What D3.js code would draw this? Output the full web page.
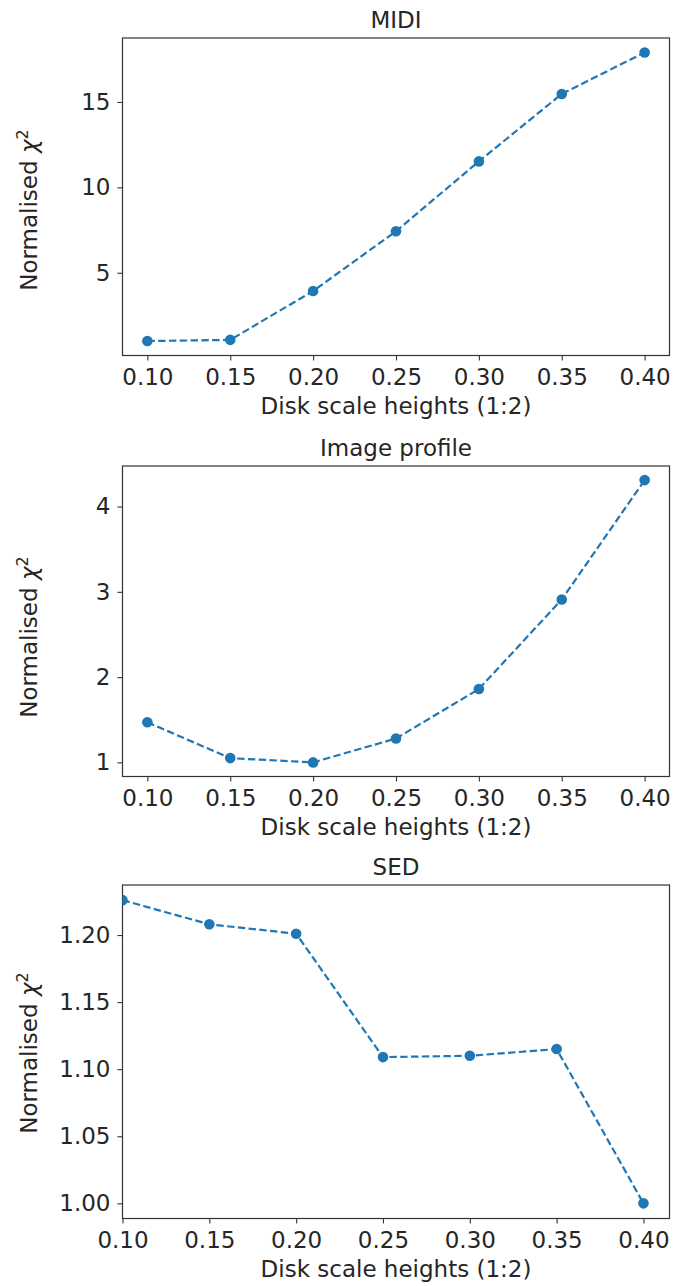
<!DOCTYPE html>
<html>
<head>
<meta charset="utf-8">
<script src="https://cdn.jsdelivr.net/npm/d3@7"></script>
<style>
  body { margin: 0; background: #fff; }
  text { font-family: "DejaVu Sans", sans-serif; fill: #262626; }
</style>
</head>
<body>
<div id="chart"></div>
<script>
// disk scale heights (x) shared by all three panels
const scaleHeights = [0.10, 0.15, 0.20, 0.25, 0.30, 0.35, 0.40]
const xTicks = [0.10, 0.15, 0.20, 0.25, 0.30, 0.35, 0.40]

const panelTitles = ["MIDI", "Image profile", "SED"]
const midiChi = [1.0, 1.07, 3.93, 7.43, 11.52, 15.47, 17.9]
const imageChi = [1.47, 1.05, 1.0, 1.28, 1.86, 2.91, 4.31]
const sedChi = [1.226, 1.208, 1.201, 1.109, 1.110, 1.115, 1.000]

const midiTicks = [5, 10, 15]
const imageTicks = [1, 2, 3, 4]
const sedTicks = [1.00, 1.05, 1.10, 1.15, 1.20]

const width = 673
const height = 1286
const blue = "#1f77b4"
const fontSize = 23

const svg = d3.select("#chart").append("svg")
  .attr("width", width)
  .attr("height", height)

// matplotlib style auto limits: 5% padding
function padded(vals){
  const lo = d3.min(vals), hi = d3.max(vals)
  const m = (hi - lo) * 0.05
  return [lo - m, hi + m]
}

const panels = [
  {title: panelTitles[0], ys: midiChi, ticks: midiTicks, fmt: d3.format("d"),
   top: 38, bottom: 355.5, labelY: 210, xdom: padded(scaleHeights)},
  {title: panelTitles[1], ys: imageChi, ticks: imageTicks, fmt: d3.format("d"),
   top: 466, bottom: 776.5, labelY: 637, xdom: padded(scaleHeights)},
  {title: panelTitles[2], ys: sedChi, ticks: sedTicks, fmt: d3.format(".2f"),
   top: 885, bottom: 1218.5, labelY: 1053, xdom: [0.10, padded(scaleHeights)[1]]}
]

const left = 122.5, right = 669.5

panels.forEach((p, i) => {
  const x = d3.scaleLinear().domain(p.xdom).range([left, right])
  const y = d3.scaleLinear().domain(padded(p.ys)).range([p.bottom, p.top])
  const g = svg.append("g")

  g.append("clipPath").attr("id", "clip" + i)
    .append("rect")
    .attr("x", left).attr("y", p.top)
    .attr("width", right - left).attr("height", p.bottom - p.top)

  // x axis
  const xa = g.append("g")
    .attr("transform", "translate(0," + p.bottom + ")")
    .call(d3.axisBottom(x).tickValues(xTicks).tickFormat(d3.format(".2f")).tickSize(5).tickPadding(8))
  // y axis
  const ya = g.append("g")
    .attr("transform", "translate(" + left + ",0)")
    .call(d3.axisLeft(y).tickValues(p.ticks).tickFormat(p.fmt).tickSize(5).tickPadding(7))

  ;[xa, ya].forEach(a => {
    a.select(".domain").remove()
    a.selectAll(".tick line").attr("stroke", "#333").attr("stroke-width", 1.1)
    a.selectAll(".tick text").attr("font-size", fontSize).attr("fill", "#262626")
      .attr("font-family", "DejaVu Sans")
  })

  // frame
  g.append("rect")
    .attr("x", left).attr("y", p.top)
    .attr("width", right - left).attr("height", p.bottom - p.top)
    .attr("fill", "none").attr("stroke", "#333").attr("stroke-width", 1.2)

  const plot = g.append("g").attr("clip-path", "url(#clip" + i + ")")
  const line = d3.line().x((d, j) => x(scaleHeights[j])).y(d => y(d))
  plot.append("path")
    .datum(p.ys)
    .attr("d", line)
    .attr("fill", "none")
    .attr("stroke", blue)
    .attr("stroke-width", 2.2)
    .attr("stroke-dasharray", "7.4,3.4")
  plot.selectAll(".pt")
    .data(p.ys)
    .enter().append("circle")
    .attr("class", "pt")
    .attr("cx", (d, j) => x(scaleHeights[j]))
    .attr("cy", d => y(d))
    .attr("r", 5.3)
    .attr("fill", blue)

  const cx = (left + right) / 2
  g.append("text")
    .attr("x", cx).attr("y", p.top - 10)
    .attr("text-anchor", "middle")
    .attr("font-size", fontSize)
    .text(p.title)

  g.append("text")
    .attr("x", cx).attr("y", p.bottom + 58)
    .attr("text-anchor", "middle")
    .attr("font-size", fontSize)
    .text("Disk scale heights (1:2)")

  const yl = g.append("text")
    .attr("transform", "translate(37," + p.labelY + ") rotate(-90)")
    .attr("text-anchor", "middle")
    .attr("font-size", fontSize)
  yl.append("tspan").text("Normalised ")
  yl.append("tspan").attr("font-style", "italic").text("χ")
  yl.append("tspan").attr("font-size", 16).attr("dy", -9).text("2")
})
</script>
</body>
</html>
